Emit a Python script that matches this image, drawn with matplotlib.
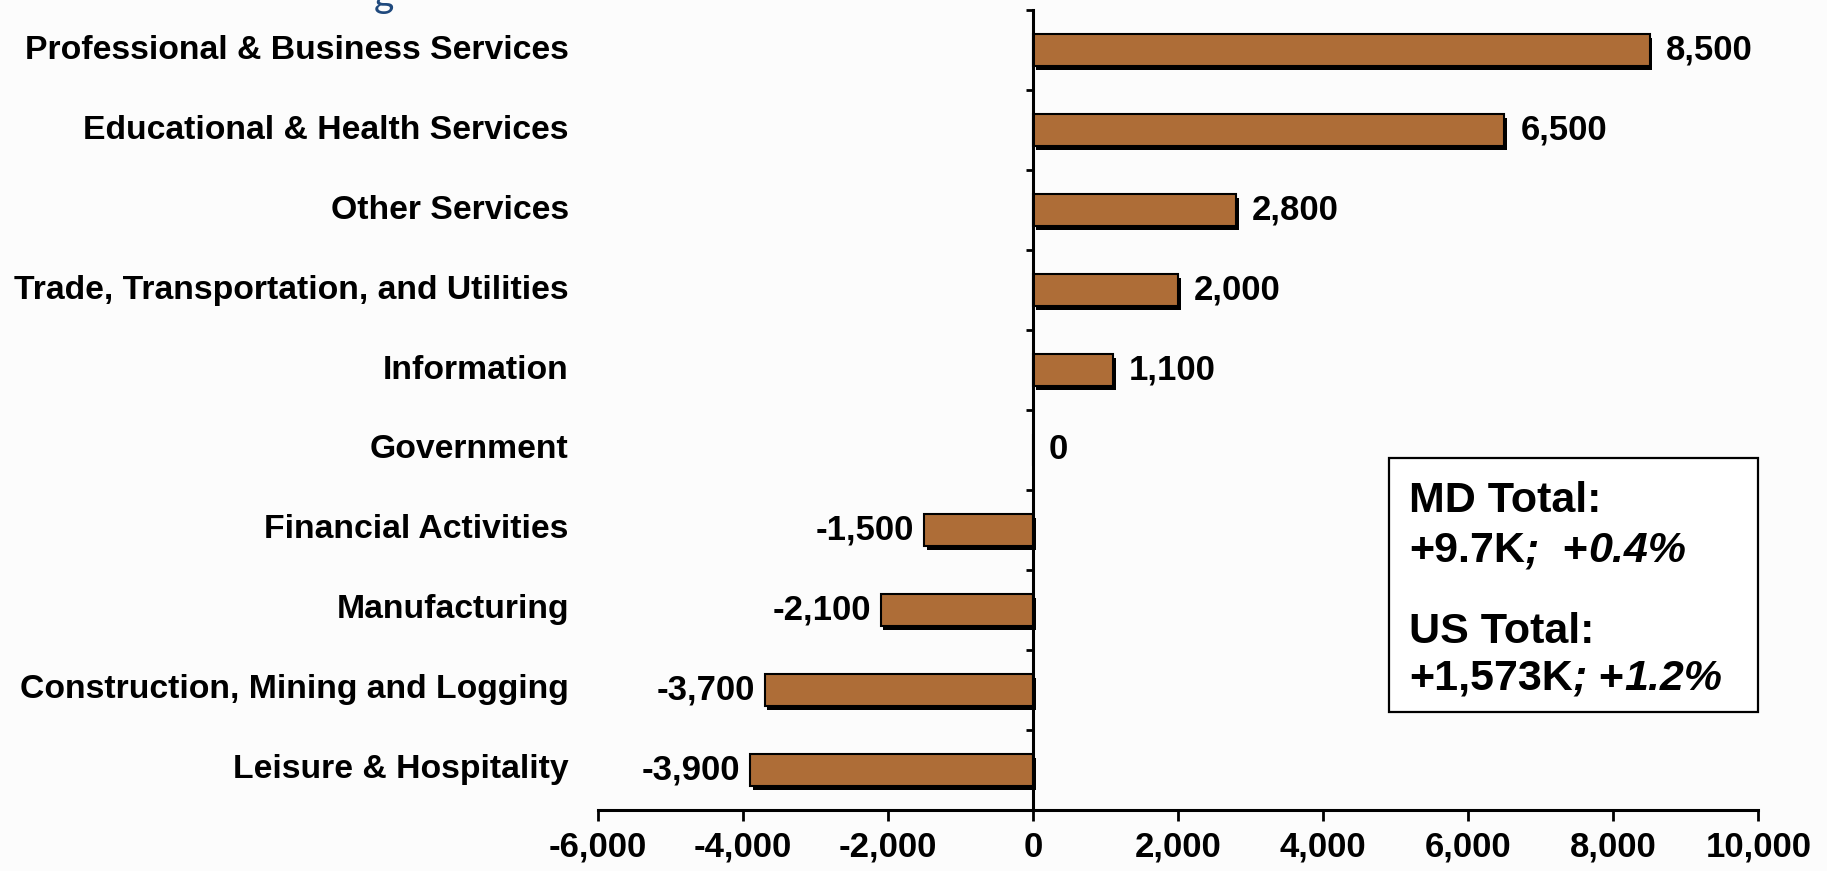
import numpy as np
import matplotlib
matplotlib.use("Agg")
import matplotlib.pyplot as plt
import matplotlib.transforms as mtransforms
import matplotlib.patheffects as pe
from matplotlib.patches import Rectangle
from matplotlib.text import Annotation
from matplotlib.ticker import FuncFormatter

# Over-the-year employment change by industry (Maryland)
industries = [
    "Professional & Business Services",
    "Educational & Health Services",
    "Other Services",
    "Trade, Transportation, and Utilities",
    "Information",
    "Government",
    "Financial Activities",
    "Manufacturing",
    "Construction, Mining and Logging",
    "Leisure & Hospitality",
]
job_change = [8500, 6500, 2800, 2000, 1100, 0, -1500, -2100, -3700, -3900]
x_ticks = [-6000, -4000, -2000, 0, 2000, 4000, 6000, 8000, 10000]

md_total = ("+9.7K", "0.4%")
us_total = ("+1,573K", "1.2%")

FONT = ["Liberation Sans", "DejaVu Sans"]
BAR_COLOR = "#AE6D37"

fig = plt.figure(figsize=(18.27, 8.71), dpi=100, facecolor="#fcfcfc")
ax = fig.add_axes([0.3272, 0.0703, 0.6352, 0.918])
ax.set_facecolor("none")

y = np.arange(len(industries))
bars = ax.barh(y, job_change, height=0.40, color=BAR_COLOR,
               edgecolor="black", linewidth=1.5, zorder=3)
for b in bars:
    b.set_path_effects([pe.SimplePatchShadow(offset=(2, -3), shadow_rgbFace="black", alpha=1.0),
                        pe.Normal()])

ax.set_xlim(x_ticks[0], x_ticks[-1])
ax.set_ylim(len(industries) - 0.5, -0.5)

# axes lines: x axis at bottom, y axis through zero
for s in ("top", "right"):
    ax.spines[s].set_visible(False)
ax.spines["left"].set_position(("data", 0))
ax.spines["left"].set_linewidth(2.2)
ax.spines["bottom"].set_linewidth(2.2)
ax.spines["left"].set_zorder(4)

ax.set_xticks(x_ticks)
ax.xaxis.set_major_formatter(FuncFormatter(lambda v, p: f"{int(v):,}"))
ax.tick_params(axis="x", direction="out", length=8, width=2, pad=7)
for lab in ax.get_xticklabels():
    lab.set_fontfamily(FONT)
    lab.set_fontweight("bold")
    lab.set_fontsize(25)

# boundary ticks on the zero line, no labels on the spine itself
ax.set_yticks(np.arange(-0.5, len(industries) - 0.5, 1.0))
ax.set_yticklabels([])
ax.tick_params(axis="y", direction="out", length=5, width=2)

# category names to the left of the plot area
trans = mtransforms.blended_transform_factory(ax.transAxes, ax.transData)
for yi, name in zip(y, industries):
    ax.text(-0.025, yi, name, transform=trans, ha="right", va="center",
            fontfamily=FONT, fontweight="bold", fontsize=24.3)

# value labels at bar ends
for yi, v in zip(y, job_change):
    if v < 0:
        ax.annotate(f"{v:,}", (v, yi), xytext=(-10, 0), textcoords="offset pixels",
                    ha="right", va="center", fontfamily=FONT, fontweight="bold", fontsize=25)
    else:
        ax.annotate(f"{v:,}", (v, yi), xytext=(16, 0), textcoords="offset pixels",
                    ha="left", va="center", fontfamily=FONT, fontweight="bold", fontsize=25)

# totals box
fig.patches.append(Rectangle((0.760, 0.1825), 0.202, 0.2915, transform=fig.transFigure,
                             facecolor="white", edgecolor="black", linewidth=1.6, zorder=5))

x0 = 1409 / 1827
BOX_KW = dict(fontfamily=FONT, fontweight="bold", fontsize=31, zorder=6)


def mixed_line(yb, parts):
    """Lay out text pieces of differing style side by side on one baseline."""
    prev = fig.text(x0, yb, parts[0][0], fontstyle=parts[0][1],
                    ha="left", va="bottom", **BOX_KW)
    for text, style in parts[1:]:
        nxt = Annotation(text, xy=(1, 0), xycoords=prev, ha="left", va="bottom",
                         fontstyle=style, annotation_clip=False, **BOX_KW)
        fig.add_artist(nxt)
        prev = nxt


fig.text(x0, 1 - 481 / 871, "MD Total:", ha="left", va="top", **BOX_KW)
mixed_line(1 - 571 / 871, [(md_total[0], "normal"), (";", "italic"), ("  +", "normal"),
                           (md_total[1], "italic")])
fig.text(x0, 1 - 612 / 871, "US Total:", ha="left", va="top", **BOX_KW)
mixed_line(1 - 699 / 871, [(us_total[0], "normal"), (";", "italic"), (" +", "normal"),
                           (us_total[1], "italic")])

# chart heading, running off the top edge
fig.text(374 / 1827, 1 - 7 / 871, "g", color="#1F497D", fontfamily=["Lato", "DejaVu Sans"],
         fontsize=28, ha="left", va="baseline")

fig.savefig("out.png", dpi=100, facecolor=fig.get_facecolor())
